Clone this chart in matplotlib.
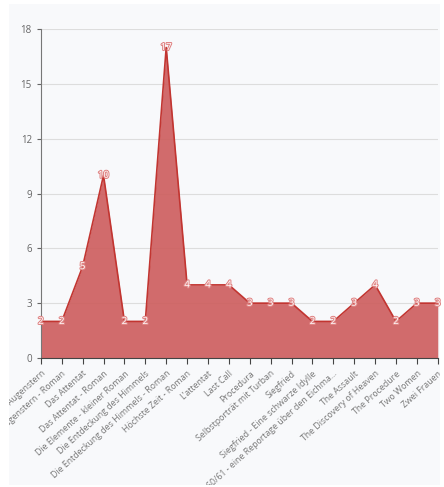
import matplotlib
matplotlib.use("Agg")
import matplotlib.pyplot as plt
import matplotlib.patheffects as pe
from matplotlib.patches import Rectangle

plt.rcParams["font.family"] = ["Open Sans", "DejaVu Sans"]

titles = [
    "Augenstern",
    "Augenstern - Roman",
    "Das Attentat",
    "Das Attentat - Roman",
    "Die Elemente - kleiner Roman",
    "Die Entdeckung des Himmels",
    "Die Entdeckung des Himmels - Roman",
    "Höchste Zeit - Roman",
    "L'attentat",
    "Last Call",
    "Procedura",
    "Selbstporträt mit Turban",
    "Siegfried",
    "Siegfried - Eine schwarze Idylle",
    "Eichmann 1960/61 - eine Reportage über den Eichma...",
    "The Assault",
    "The Discovery of Heaven",
    "The Procedure",
    "Two Women",
    "Zwei Frauen",
]
counts = [2, 2, 5, 10, 2, 2, 17, 4, 4, 4, 3, 3, 3, 2, 2, 3, 4, 2, 3, 3]
yticks = [0, 3, 6, 9, 12, 15, 18]

bg = "#f8f9fb"
W, H = 444, 487
fig = plt.figure(figsize=(W / 100, H / 100), dpi=100, facecolor="white")

# light panel behind the chart, with a thin white margin round it
panel = Rectangle((9 / W, 2 / H), 431 / W, 481 / H, transform=fig.transFigure,
                  facecolor=bg, edgecolor="none", zorder=-10)
fig.patches.append(panel)

ax = fig.add_axes([0.092, 0.265, 0.894, 0.675], facecolor=bg)

x = list(range(len(titles)))
ax.fill_between(x, counts, 0, color="#cd5c5c", alpha=0.9, linewidth=0)
ax.plot(x, counts, color="#c23531", linewidth=1.2)

for xi, v in zip(x, counts):
    ax.text(xi, v, str(v), ha="center", va="center", fontsize=7, color="white",
            path_effects=[pe.withStroke(linewidth=1.5, foreground="#e08585")])

ax.set_xlim(0, len(titles) - 1)
ax.set_ylim(0, 18)
ax.set_yticks(yticks)
ax.set_xticks(x)
ax.set_xticklabels(titles, rotation=42, ha="right", rotation_mode="anchor",
                   fontsize=6.3, color="#777777")
for lbl in ax.get_xticklabels():
    lbl.set_clip_path(panel)
ax.tick_params(axis="y", labelsize=7, colors="#666666", length=3)
ax.tick_params(axis="x", length=4, color="#444444", pad=4)
ax.grid(axis="y", color="#dddddd", linewidth=0.8)
ax.set_axisbelow(True)
for s in ["top", "right"]:
    ax.spines[s].set_visible(False)
ax.spines["left"].set_color("#777777")
ax.spines["bottom"].set_color("#444444")

fig.savefig("out.png", dpi=100, facecolor="white")
